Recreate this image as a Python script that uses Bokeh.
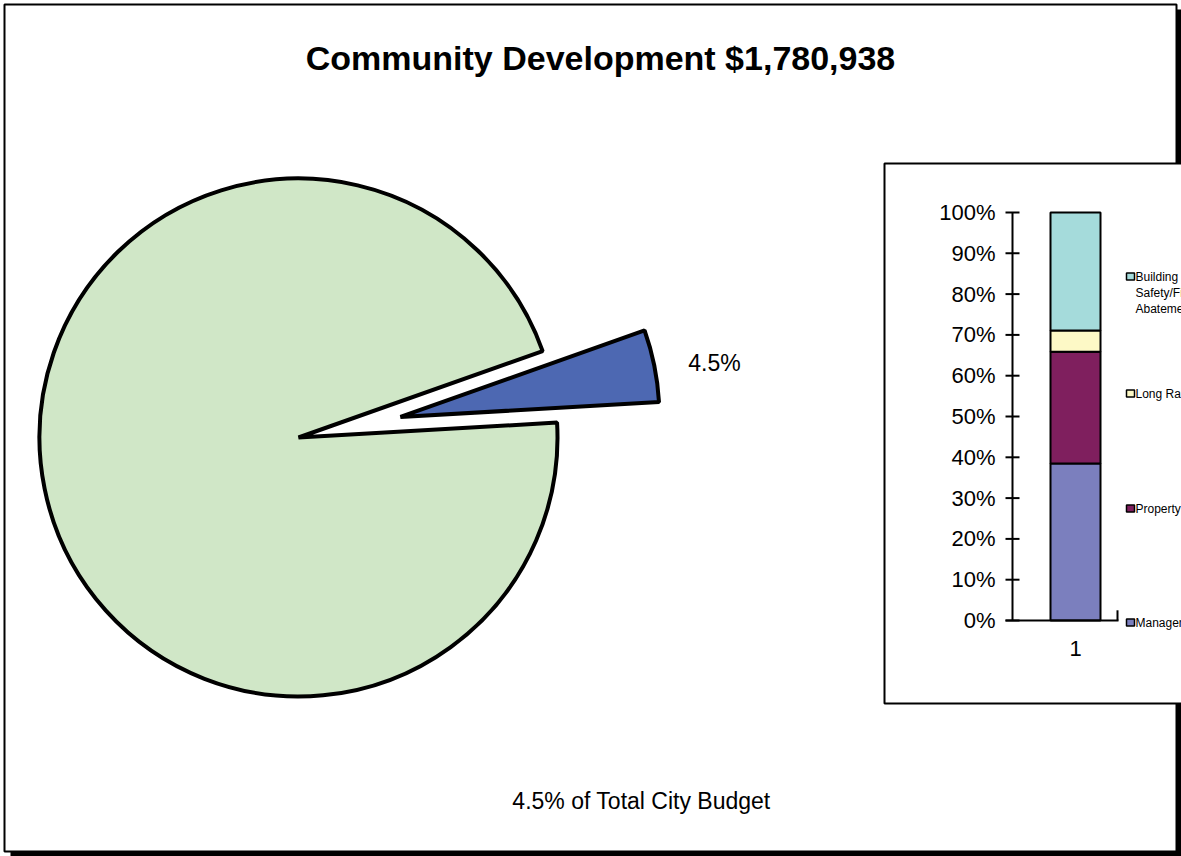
import numpy as np
from bokeh.plotting import figure
from bokeh.models import Range1d
from bokeh.core.properties import value
from bokeh.embed import file_html
from bokeh.resources import INLINE

# ---------------- data ----------------
title_text = "Community Development $1,780,938"
footnote_text = "4.5% of Total City Budget"
pie_labels = ["Community Development", "Rest of City Budget"]
pie_shares = [4.5, 95.5]          # percent of total city budget
pie_colors = ["#4D68B2", "#D0E7C7"]
pie_start_deg = 3.3               # angle where the first slice starts

bar_category = "1"
bar_series = ["Management", "Property Maintenance", "Long Range Planning",
              "Building Safety/Fire Abatement"]
bar_values = [38.5, 27.4, 5.2, 28.9]    # percent of department budget
bar_colors = ["#7B7FBE", "#7F1F5E", "#FDF9C6", "#A5DBDB"]
legend_lines = [["Management"], ["Property Maintenance"], ["Long Range Planning"],
                ["Building", "Safety/Fire", "Abatement"]]
pct_ticks = [0, 10, 20, 30, 40, 50, 60, 70, 80, 90, 100]
pct_tick_labels = [f"{t}%" for t in pct_ticks]

W, H = 1181, 856
FONT = value("Liberation Sans")

def sy(y):  # screen y (top-down) -> data y (bottom-up)
    return H - y

p = figure(width=W, height=H, x_range=Range1d(0, W), y_range=Range1d(0, H),
           output_backend="svg", toolbar_location=None, min_border=0,
           min_border_left=0, min_border_right=0, min_border_top=0, min_border_bottom=0)
p.axis.visible = False
p.grid.visible = False
p.outline_line_color = None
p.background_fill_color = "white"
p.border_fill_color = "white"

# inset percentage scale: 0% at screen y 620, 100% at screen y 212
px_per_pct = (620 - 212) / 100.0
pct_start = -sy(620) / px_per_pct
pct_end = 100 + (H - sy(212)) / px_per_pct
p.extra_y_ranges = {"pct": Range1d(pct_start, pct_end)}

# ---------------- outer frame with shadow ----------------
p.quad(left=[1176], right=[1190], bottom=[sy(860)], top=[sy(9)], fill_color="black", line_color=None)
p.quad(left=[10], right=[1190], bottom=[sy(860)], top=[sy(851)], fill_color="black", line_color=None)
p.quad(left=[4], right=[1176], bottom=[sy(851)], top=[sy(4)], fill_color="white",
       line_color="black", line_width=2)

# ---------------- title / footnote ----------------
p.text(x=[600], y=[sy(57)], text=[title_text], text_font=FONT, text_font_size="34px",
       text_font_style="bold", text_align="center", text_baseline="middle", text_color="black")
p.text(x=[641], y=[sy(800)], text=[footnote_text], text_font=FONT, text_font_size="23px",
       text_align="center", text_baseline="middle", text_color="black")

# ---------------- pie ----------------
cx, cy, r = 298, sy(437), 259
explode = 104
angles = np.cumsum([0] + [s / 100.0 * 360 for s in pie_shares])
for i, (share, col) in enumerate(zip(pie_shares, pie_colors)):
    a0 = pie_start_deg + angles[i]
    a1 = pie_start_deg + angles[i + 1]
    mid = np.deg2rad((a0 + a1) / 2)
    off = explode if i == 0 else 0
    x0 = cx + off * np.cos(mid)
    y0 = cy + off * np.sin(mid)
    p.wedge(x=[x0], y=[y0], radius=r, start_angle=a0, end_angle=a1,
            start_angle_units="deg", end_angle_units="deg",
            fill_color=col, line_color="black", line_width=4)

p.text(x=[714], y=[sy(362)], text=[f"{pie_shares[0]}%"], text_font=FONT, text_font_size="23px",
       text_align="center", text_baseline="middle", text_color="black")

# ---------------- inset chart box ----------------
p.quad(left=[884], right=[1300], bottom=[sy(703)], top=[sy(163)], fill_color="white",
       line_color="black", line_width=2)

axis_x = 1012
bar_left, bar_right = 1050, 1100

# stacked bars
bottoms = np.cumsum([0] + bar_values[:-1])
tops = np.cumsum(bar_values)
for b, t, col in zip(bottoms, tops, bar_colors):
    p.quad(left=[bar_left], right=[bar_right], bottom=[b], top=[t], y_range_name="pct",
           fill_color=col, line_color="black", line_width=2)

# value axis
p.segment(x0=[axis_x], x1=[axis_x], y0=[pct_ticks[0]], y1=[pct_ticks[-1]], y_range_name="pct",
          line_color="black", line_width=2)
p.segment(x0=[axis_x - 7] * len(pct_ticks), x1=[axis_x + 7] * len(pct_ticks),
          y0=pct_ticks, y1=pct_ticks, y_range_name="pct", line_color="black", line_width=2)
p.text(x=[995] * len(pct_ticks), y=pct_ticks, text=pct_tick_labels, y_range_name="pct",
       text_font=FONT, text_font_size="22px", text_align="right", text_baseline="middle",
       text_color="black")

# category axis
p.segment(x0=[axis_x - 7], x1=[1118], y0=[0], y1=[0], y_range_name="pct",
          line_color="black", line_width=2)
p.segment(x0=[1117], x1=[1117], y0=[0], y1=[2.5], y_range_name="pct",
          line_color="black", line_width=2)
p.text(x=[(bar_left + bar_right) / 2], y=[sy(648)], text=[bar_category], text_font=FONT,
       text_font_size="22px", text_align="center", text_baseline="middle", text_color="black")

# legend (reversed order, top = last series), clipped by window edge like the reference
legend_y = {3: 276, 2: 393, 1: 508, 0: 622}
for i, col in enumerate(bar_colors):
    ly = legend_y[i]
    p.quad(left=[1126], right=[1134], bottom=[sy(ly + 3.5)], top=[sy(ly - 3.5)],
           fill_color=col, line_color="black", line_width=1.5)
    lines = legend_lines[i]
    for k, ln in enumerate(lines):
        p.text(x=[1135], y=[sy(ly + 16 * k)], text=[ln], text_font=FONT,
               text_font_size="12px", text_align="left", text_baseline="middle",
               text_color="black")

open("out.html", "w").write(file_html(p, INLINE))
